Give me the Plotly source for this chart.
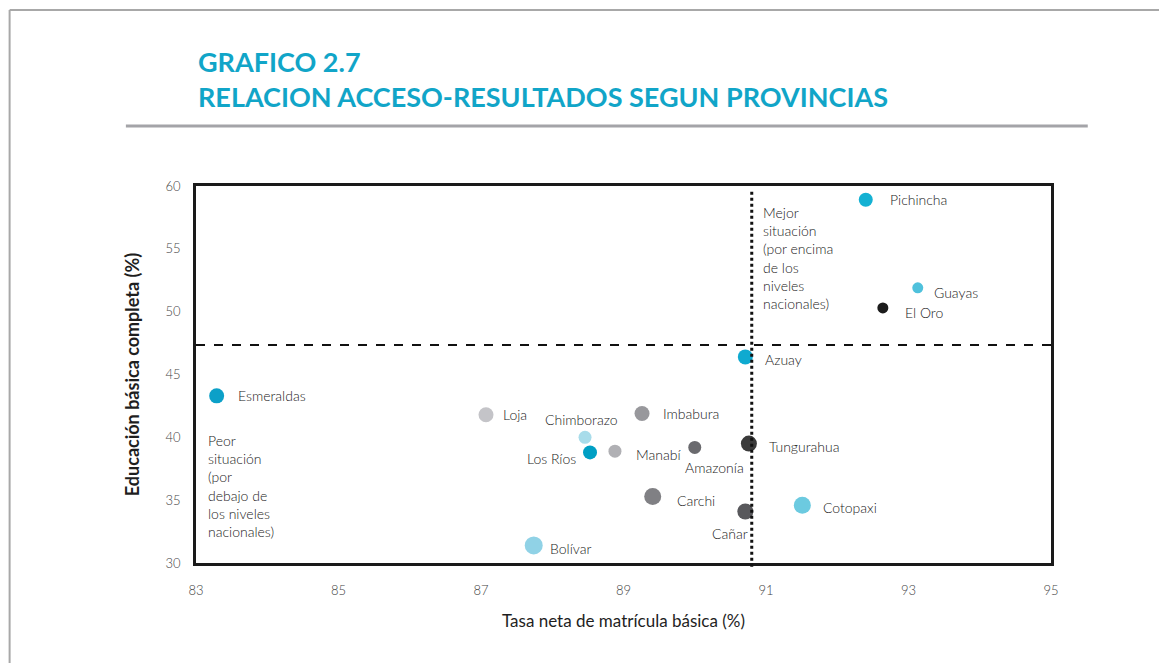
import plotly.graph_objects as go

# datos por provincia
provincias = ["Pichincha", "Guayas", "El Oro", "Azuay", "Esmeraldas", "Loja", "Imbabura",
              "Chimborazo", "Los Ríos", "Manabí", "Amazonía", "Tungurahua", "Carchi",
              "Cañar", "Cotopaxi", "Bolívar"]
matricula = [92.40, 93.13, 92.64, 90.71, 83.29, 87.07, 89.26,
             88.46, 88.53, 88.88, 90.00, 90.76, 89.41,
             90.71, 91.51, 87.74]
educacion = [58.9, 51.9, 50.3, 46.4, 43.3, 41.8, 41.9,
             40.0, 38.8, 38.9, 39.2, 39.5, 35.3,
             34.1, 34.6, 31.4]

# niveles nacionales
nacional_x = 90.8
nacional_y = 47.35

# estilo de cada punto
colores = ["#14b1d3", "#4fc1dc", "#1c1c1c", "#0faad0", "#0ca0c8", "#c4c4c8", "#98989c",
           "#a8dcea", "#009fc4", "#b0b0b4", "#6a6a6e", "#3a3a3a", "#808084",
           "#58585c", "#6ccae0", "#90d2e6"]
tamanos = [14, 11, 11, 15, 15, 15, 15, 13, 14, 13, 13, 16, 17, 16, 17, 18]
# desplazamiento de etiquetas (px) y anclaje
etiq = [(22, 0, "left"), (14, -5, "left"), (20, -5, "left"), (18, -3, "left"),
        (19, 0, "left"), (15, 0, "left"), (19, 0, "left"), (-4, 18, "center"),
        (-12, -6, "right"), (19, -3, "left"), (20, -20, "center"), (18, -3, "left"),
        (22, -4, "left"), (5, -22, "right"), (19, -2, "left"), (14, -3, "left")]

AZUL = "#11a5c8"
FONT = "Lato"

fig = go.Figure()
fig.add_trace(go.Scatter(
    x=matricula, y=educacion, mode="markers",
    marker=dict(color=colores, size=tamanos, opacity=1, line=dict(width=0)),
    hoverinfo="text", text=provincias, showlegend=False,
))

annotations = []
for nombre, mx, ey, (dx, dy, anc) in zip(provincias, matricula, educacion, etiq):
    annotations.append(dict(
        x=mx, y=ey, xref="x", yref="y", text=nombre, showarrow=False,
        xanchor=anc, yanchor="middle", xshift=dx, yshift=dy,
        font=dict(family=FONT, size=14, weight=300, color="#222222"),
    ))

annotations.append(dict(
    x=nacional_x, y=58.75, xref="x", yref="y", xshift=9, xanchor="left", yanchor="top",
    text="Mejor<br>situación<br>(por encima<br>de los<br>niveles<br>nacionales)",
    showarrow=False, align="left",
    font=dict(family=FONT, size=14, weight=300, color="#222222"),
))
annotations.append(dict(
    x=83, y=40.6, xref="x", yref="y", xshift=10, xanchor="left", yanchor="top",
    text="Peor<br>situación<br>(por<br>debajo de<br>los niveles<br>nacionales)",
    showarrow=False, align="left",
    font=dict(family=FONT, size=14, weight=300, color="#222222"),
))

# titulo
annotations.append(dict(
    x=0, y=1.33, xref="paper", yref="paper", xanchor="left", yanchor="middle",
    text="<b>GRAFICO 2.7</b>", showarrow=False,
    font=dict(family=FONT, size=27, color=AZUL),
))
annotations.append(dict(
    x=0, y=1.237, xref="paper", yref="paper", xanchor="left", yanchor="middle",
    text="<b>RELACION ACCESO-RESULTADOS SEGUN PROVINCIAS</b>", showarrow=False,
    font=dict(family=FONT, size=27, color=AZUL),
))

shapes = [
    dict(type="line", xref="paper", yref="y", x0=0, x1=1.008, y0=nacional_y, y1=nacional_y,
         line=dict(color="#111111", width=2, dash="dash")),
    dict(type="line", xref="x", yref="paper", x0=nacional_x, x1=nacional_x, y0=-0.01, y1=0.99,
         line=dict(color="#111111", width=3, dash="dot")),
    # regla bajo el titulo
    dict(type="line", xref="paper", yref="paper", x0=-0.082, x1=1.043, y0=1.159, y1=1.159,
         line=dict(color="#a4a4a8", width=3)),
    # borde de pagina
    dict(type="line", xref="paper", yref="paper", x0=-0.218, x1=1.2, y0=1.467, y1=1.467,
         line=dict(color="#a8a8a8", width=2)),
    dict(type="line", xref="paper", yref="paper", x0=-0.218, x1=-0.218, y0=1.467, y1=-0.3,
         line=dict(color="#a8a8a8", width=2)),
]

fig.update_layout(
    width=1151, height=655,
    margin=dict(l=188, r=108, t=178, b=100),
    paper_bgcolor="white", plot_bgcolor="white",
    font=dict(family=FONT),
    annotations=annotations, shapes=shapes,
    xaxis=dict(range=[83, 95], tickvals=[83, 85, 87, 89, 91, 93, 95],
               showgrid=False, zeroline=False, showline=True, mirror=True,
               linecolor="#1a1a1a", linewidth=2.5, ticks="", ticklabelstandoff=14,
               tickfont=dict(family=FONT, size=13, weight=300, color="#444444"),
               title=dict(text="Tasa neta de matrícula básica (%)", standoff=18,
                          font=dict(family=FONT, size=17, color="#1e1e1e"))),
    yaxis=dict(range=[30, 60], tickvals=[30, 35, 40, 45, 50, 55, 60],
               showgrid=False, zeroline=False, showline=True, mirror=True,
               linecolor="#1a1a1a", linewidth=2.5, ticks="", ticklabelstandoff=10,
               tickfont=dict(family=FONT, size=13, weight=300, color="#444444"),
               title=dict(text="<b>Educación básica completa (%)</b>", standoff=22,
                          font=dict(family=FONT, size=18, color="#1e1e1e"))),
)

fig.write_html("out.html")
